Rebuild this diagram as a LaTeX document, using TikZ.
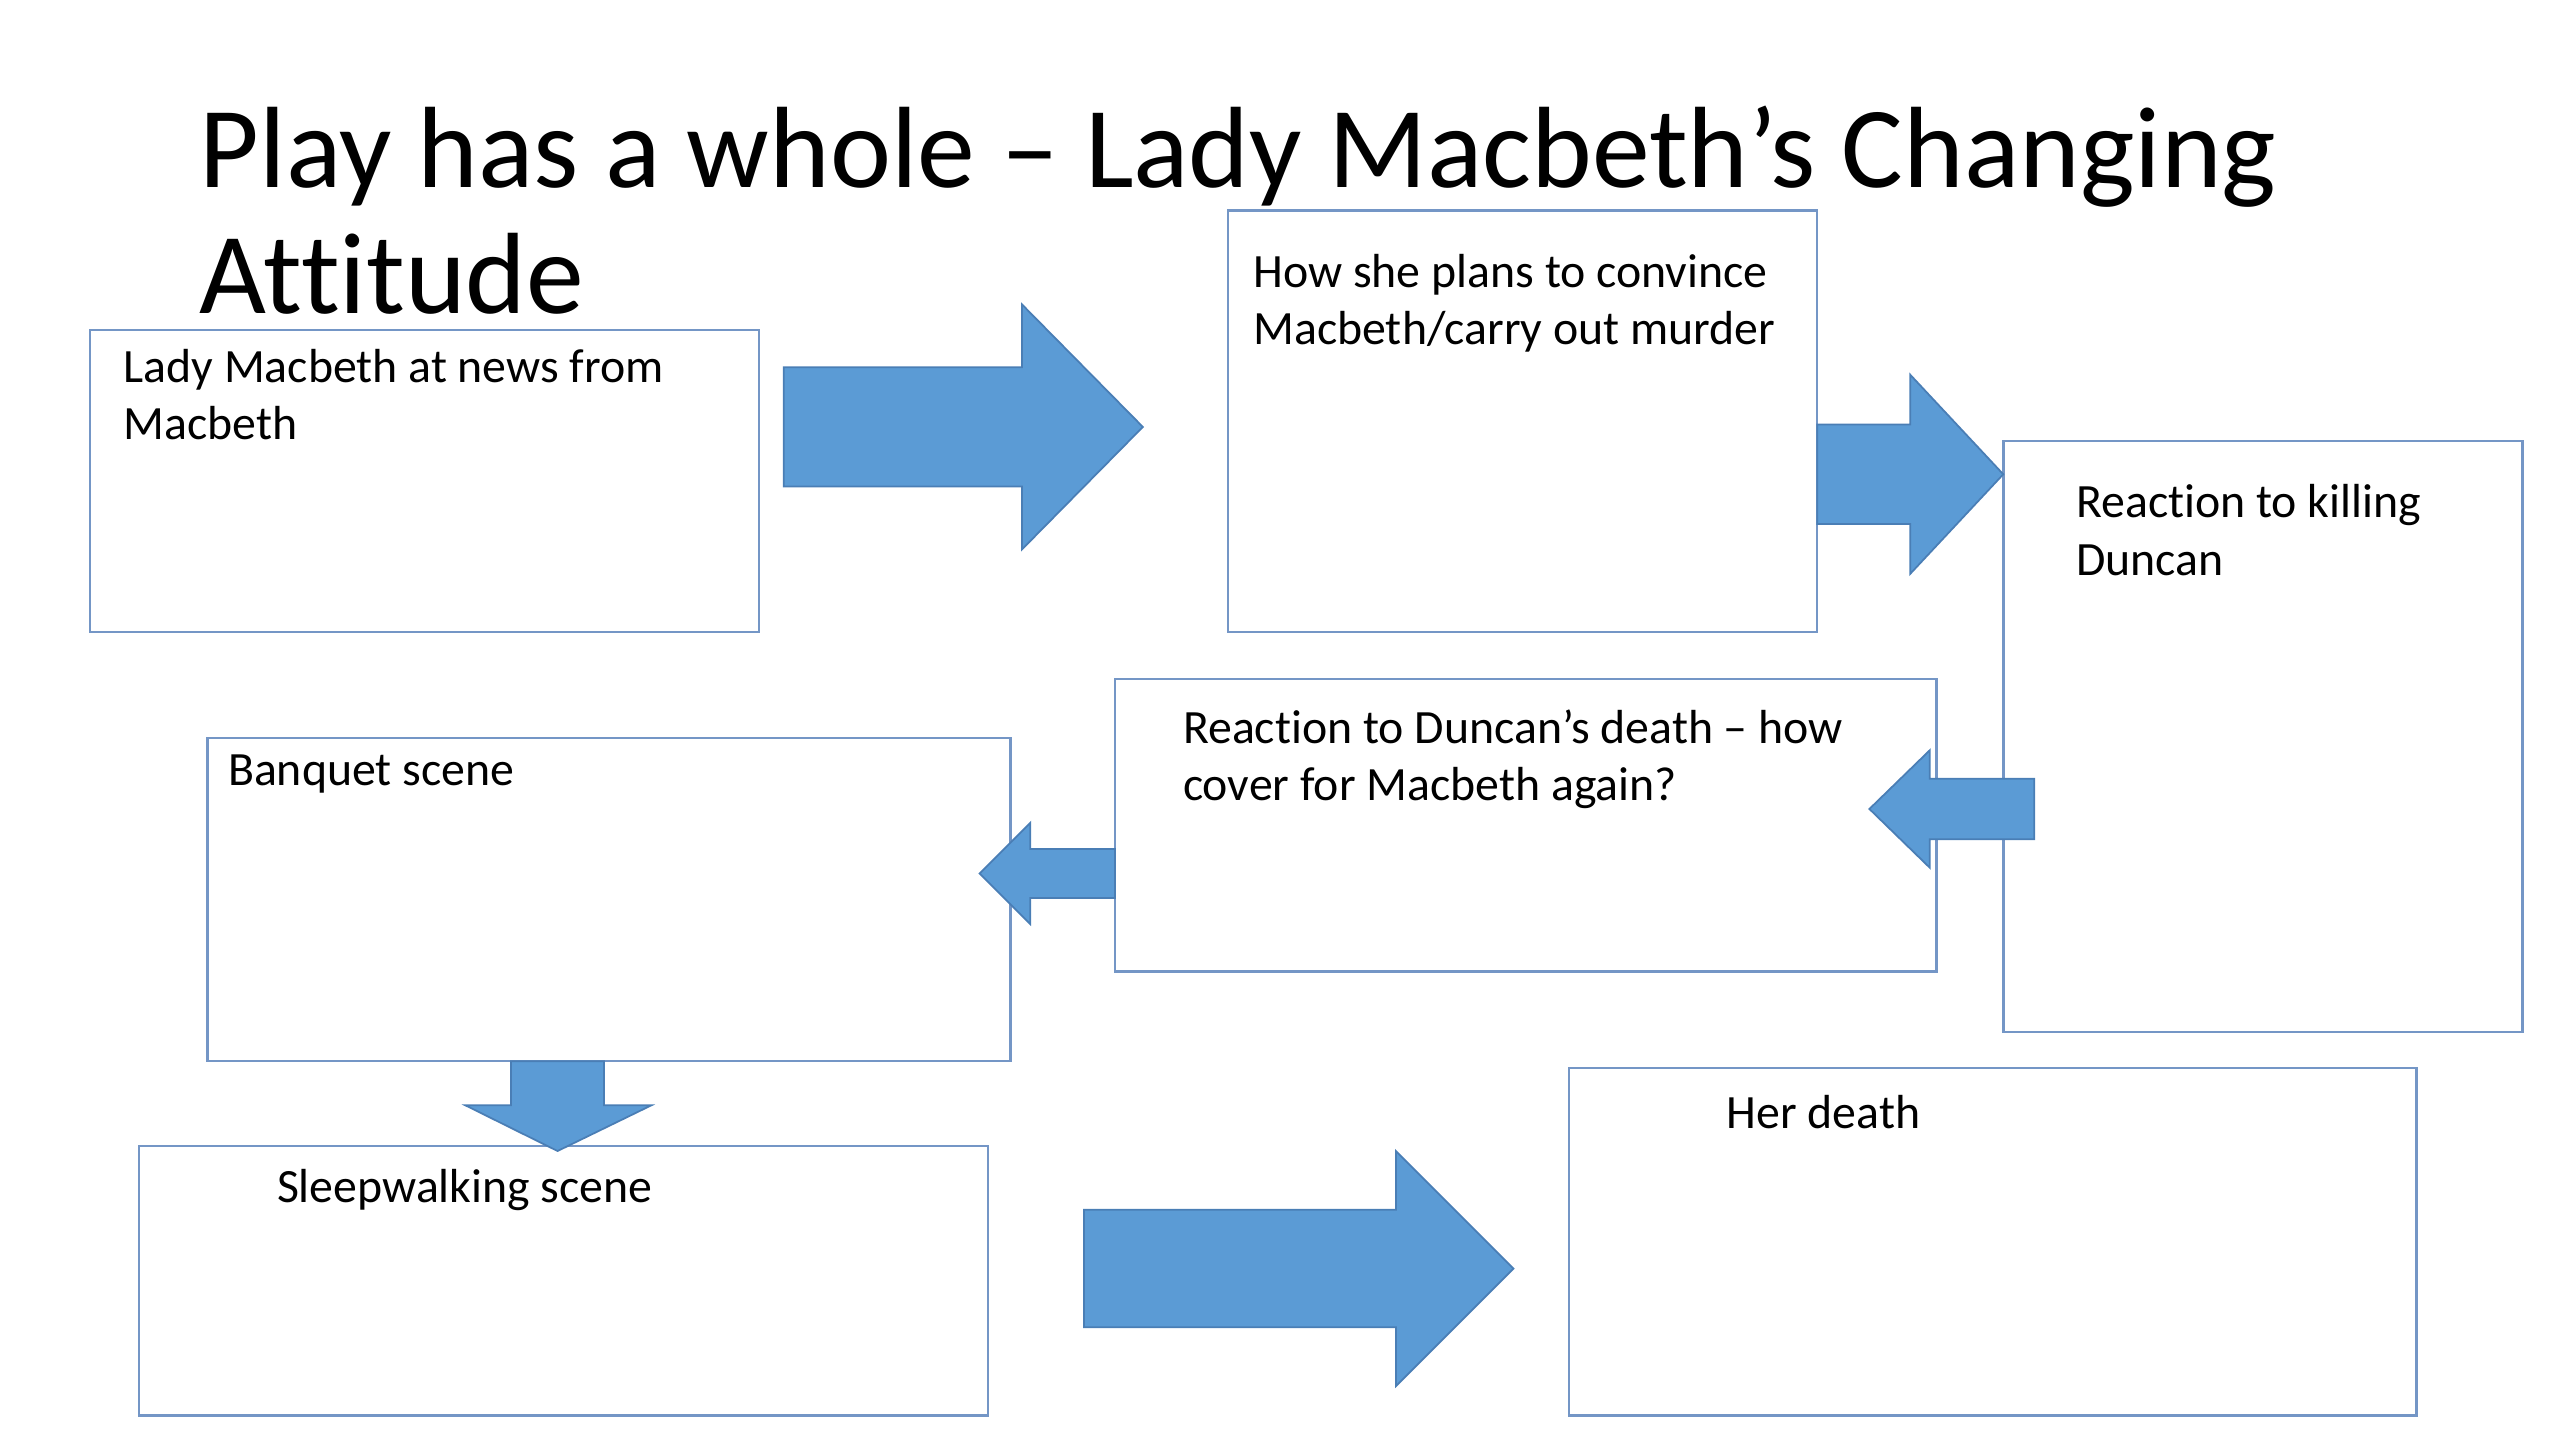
\documentclass[tikz,border=0pt]{standalone}
\usepackage{fontspec}
\setmainfont{Carlito}[Ligatures={TeX,NoCommon}]
\usetikzlibrary{fit}
\definecolor{panelblue}{HTML}{7496C6}
\definecolor{arrowblue}{HTML}{5B9BD5}
\definecolor{arrowedge}{HTML}{4A7EB5}
\begin{document}
\begin{tikzpicture}[x=0.016327cm,y=-0.016327cm,
                    panel/.style={draw=panelblue,line width=0.7pt,inner sep=0pt},
                    caption/.style={anchor=base west,inner sep=0pt,align=left,font=\fontsize{13.6}{16.3}\selectfont},
                    blockarrow/.style={fill=arrowblue,draw=arrowedge,line width=0.5pt,line join=miter}]
      \useasboundingbox (0,0) rectangle (1568,882);

      % base of a two line text is the baseline of its last line
      \node[anchor=base west,inner sep=0pt,align=left,font=\fontsize{32.9}{35.9}\selectfont] (title) at (122,192)
        {Play has a whole -- Lady Macbeth’s Changing\\Attitude};

      % the boxes
      \node[panel,fit={(55,202) (465,387)}] (news) {};
      \node[panel,fit={(752,129) (1113,387)}] (plans) {};
      \node[panel,fit={(1227,270) (1545,632)}] (killing) {};
      \node[panel,fit={(683,416) (1186,595)}] (cover) {};
      \node[panel,fit={(127,452) (619,650)}] (banquet) {};
      \node[panel,fit={(85,702) (605,867)}] (sleep) {};
      \node[panel,fit={(961,654) (1480,867)}] (death) {};

      \node[caption] (newsT) at ([shift={(21,68)}]news.north west) {Lady Macbeth at news from\\Macbeth};
      \node[caption] (plansT) at ([shift={(16,83)}]plans.north west) {How she plans to convince\\Macbeth/carry out murder};
      \node[caption] (killingT) at ([shift={(45,83)}]killing.north west) {Reaction to killing\\Duncan};
      \node[caption] (coverT) at ([shift={(42,75)}]cover.north west) {Reaction to Duncan’s death -- how\\cover for Macbeth again?};
      \node[caption] (banquetT) at ([shift={(13,30)}]banquet.north west) {Banquet scene};
      \node[caption] (sleepT) at ([shift={(85,35)}]sleep.north west) {Sleepwalking scene};
      \node[caption] (deathT) at ([shift={(97,38)}]death.north west) {Her death};

      % block arrows: tail, head base, tip, centre, half shaft, half head
      \foreach \xa/\xb/\xc/\yc/\s/\h in {480/626/700/261.5/36.5/75,
                                         1113/1170/1227/290.5/30.5/61,
                                         1246/1182/1145/495.5/18.5/36,
                                         683/631/600/535/15/31,
                                         664/855/927/777/36/72} {
        \draw[blockarrow] (\xa,\yc-\s) -- (\xb,\yc-\s) -- (\xb,\yc-\h) -- (\xc,\yc)
                          -- (\xb,\yc+\h) -- (\xb,\yc+\s) -- (\xa,\yc+\s) -- cycle;
      }
      \draw[blockarrow] (313,650) -- (313,677) -- (285,677) -- (341.5,705)
                        -- (399,677) -- (370,677) -- (370,650) -- cycle;
    \end{tikzpicture}
\end{document}
